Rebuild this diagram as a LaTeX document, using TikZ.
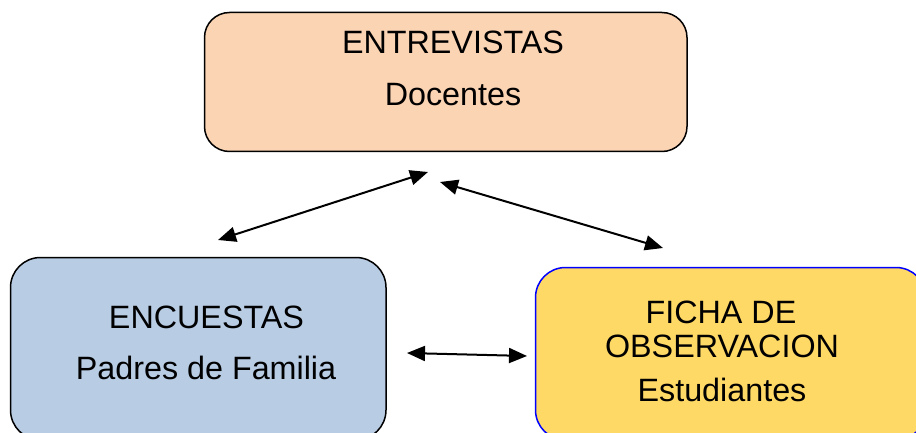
\documentclass[tikz,border=0pt]{standalone}
\usepackage{fontspec}
\setmainfont{Liberation Sans}
\usetikzlibrary{arrows.meta}
\definecolor{durazno}{HTML}{FBD4B4}
\definecolor{celeste}{HTML}{B8CCE4}
\definecolor{amarillo}{HTML}{FFD966}

\begin{document}
\begin{tikzpicture}[x=1pt, y=-1pt,
	caja/.style={draw, line width=1.5pt, inner sep=0pt},
	texto/.style={font=\fontsize{32.3}{35}\selectfont, inner sep=0pt},
	flecha/.style={{Triangle[length=18pt,width=15pt]}-{Triangle[length=18pt,width=15pt]}, line width=2pt}]
		\clip (0,0) rectangle (916,433);
		\useasboundingbox (0,0) rectangle (916,433);
		% cajas
		\node[caja, fill=durazno, rounded corners=25pt, minimum width=482.5pt, minimum height=139pt] (entrevistas) at (445.75,82) {};
		\node[caja, fill=celeste, rounded corners=30pt, minimum width=375.5pt, minimum height=182.5pt] (encuestas) at (198.25,348.75) {};
		\node[caja, draw=blue, fill=amarillo, rounded corners=30pt, minimum width=390.5pt, minimum height=172.5pt] (ficha) at (730.75,353.75) {};
		% textos
		\node[texto] (t1) at (453,42.5) {ENTREVISTAS};
		\node[texto] (t2) at (453,94.5) {Docentes};
		\node[texto] (t3) at (206.5,317.5) {ENCUESTAS};
		\node[texto] (t4) at (206,368) {Padres de Familia};
		\node[texto] (t5) at (721,312.5) {FICHA DE};
		\node[texto] (t6) at (722,346.5) {OBSERVACION};
		\node[texto] (t7) at (722,389.5) {Estudiantes};
		% flechas
		\coordinate (e1) at (428,172);
		\coordinate (e2) at (440,182);
		\coordinate (p1) at (218,240);
		\coordinate (p2) at (407,353);
		\coordinate (f1) at (663,248);
		\coordinate (f2) at (527,356);
		\draw[flecha] (p1) -- (e1);
		\draw[flecha] (e2) -- (f1);
		\draw[flecha] (p2) -- (f2);
	\end{tikzpicture}
\end{document}
